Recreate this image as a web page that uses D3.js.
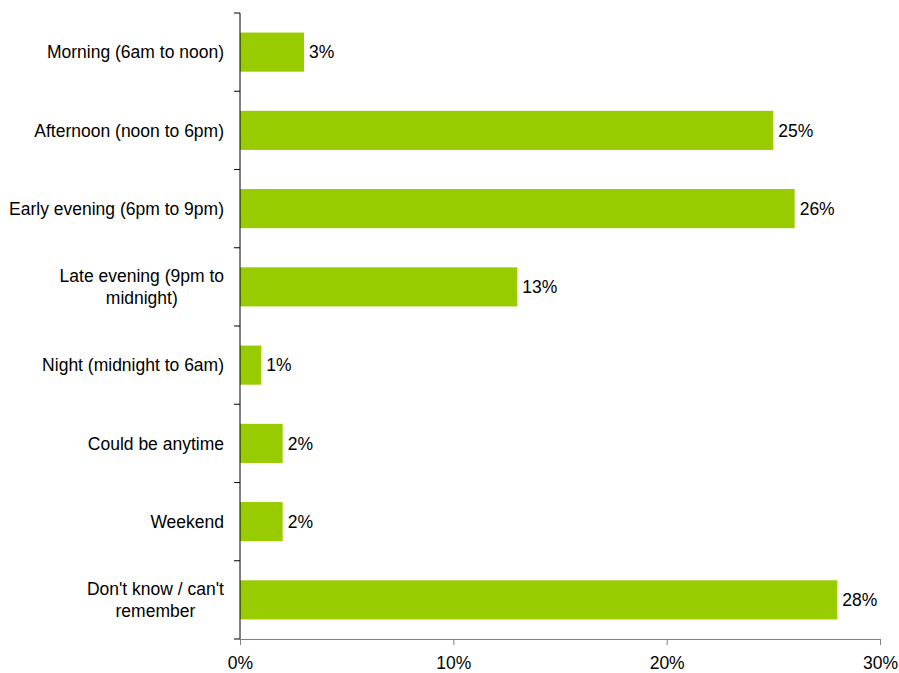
<!DOCTYPE html>
<html>
<head>
<meta charset="utf-8">
<script src="https://cdn.jsdelivr.net/npm/d3@7"></script>
<style>
  body { margin: 0; background: #fff; }
  text { font-family: "Liberation Sans", Arial, sans-serif; }
</style>
</head>
<body>
<script>
// DATA
const categories = [
  ["Morning (6am to noon)"],
  ["Afternoon (noon to 6pm)"],
  ["Early evening (6pm to 9pm)"],
  ["Late evening (9pm to", "midnight)"],
  ["Night (midnight to 6am)"],
  ["Could be anytime"],
  ["Weekend"],
  ["Don't know / can't", "remember"]
];
const values = [3, 25, 26, 13, 1, 2, 2, 28];
const xTicks = [0, 10, 20, 30];

// SIZES
const W = 899, H = 673;
const margin = {top: 13, right: 19, bottom: 34, left: 240};
const width = W - margin.left - margin.right;
const height = H - margin.top - margin.bottom;
const fontSize = "17.5px";

const svg = d3.select("body").append("svg")
  .attr("width", W)
  .attr("height", H)
  .append("g")
  .attr("transform", `translate(${margin.left},${margin.top})`);

const ids = d3.range(categories.length);

// SCALES
const x = d3.scaleLinear().domain([0, 30]).range([0, width]);
const y = d3.scaleBand().domain(ids).range([0, height]).paddingInner(0.5).paddingOuter(0.25);

// BARS
svg.selectAll("rect.bar")
  .data(ids)
  .join("rect")
  .attr("class", "bar")
  .attr("x", 0)
  .attr("y", i => y(i))
  .attr("width", i => x(values[i]))
  .attr("height", y.bandwidth())
  .attr("fill", "#99cc00");

// VALUE LABELS
svg.selectAll("text.val")
  .data(ids)
  .join("text")
  .attr("class", "val")
  .attr("x", i => x(values[i]) + 5)
  .attr("y", i => y(i) + y.bandwidth() / 2)
  .attr("dy", "0.35em")
  .style("font-size", fontSize)
  .attr("fill", "#000")
  .text(i => values[i] + "%");

// X AXIS
const xAxis = svg.append("g")
  .attr("transform", `translate(0,${height})`)
  .call(d3.axisBottom(x).tickValues(xTicks).tickFormat(d => d + "%").tickSizeInner(6).tickSizeOuter(0));
xAxis.select(".domain").attr("stroke", "#808080");
xAxis.selectAll(".tick line").attr("stroke", "#808080");
xAxis.selectAll(".tick text")
  .style("font-size", fontSize)
  .style("font-family", "Liberation Sans, Arial, sans-serif")
  .attr("fill", "#000")
  .attr("y", 18);

// Y AXIS (line + ticks between categories)
const yAxis = svg.append("g");
yAxis.append("line")
  .attr("x1", 0).attr("x2", 0)
  .attr("y1", 0).attr("y2", height)
  .attr("stroke", "#000");
yAxis.selectAll("line.tk")
  .data(d3.range(categories.length + 1))
  .join("line")
  .attr("class", "tk")
  .attr("x1", -6).attr("x2", 0)
  .attr("y1", i => i * height / categories.length)
  .attr("y2", i => i * height / categories.length)
  .attr("stroke", "#000");

// CATEGORY LABELS
const labelRight = -16;
ids.forEach(i => {
  const lines = categories[i];
  const cy = y(i) + y.bandwidth() / 2;
  const t = svg.append("text")
    .style("font-size", fontSize)
    .attr("fill", "#000")
    .attr("text-anchor", "middle");
  lines.forEach((ln, j) => {
    t.append("tspan")
      .attr("x", 0)
      .attr("y", cy + (j - (lines.length - 1) / 2) * 22)
      .attr("dy", "0.35em")
      .text(ln);
  });
  // right-align the block, centering lines within it
  const bb = t.node().getBBox();
  t.attr("transform", `translate(${labelRight - bb.width / 2},0)`);
});
</script>
</body>
</html>
